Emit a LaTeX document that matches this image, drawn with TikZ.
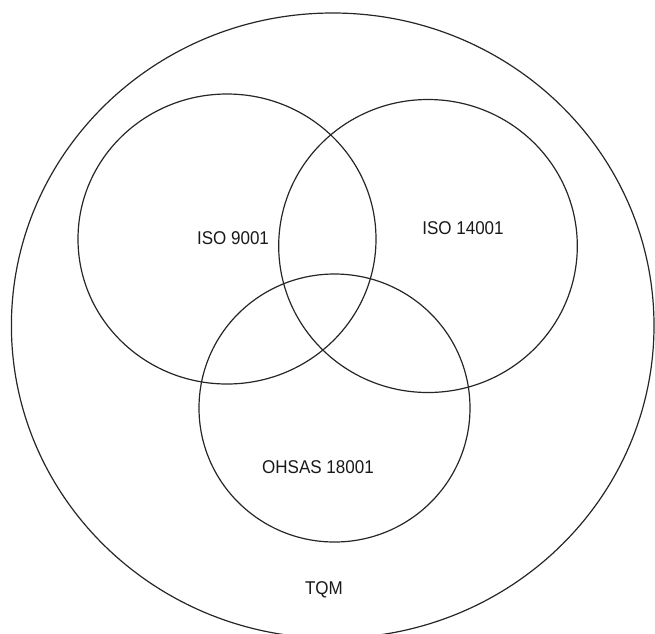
\documentclass[tikz,border=0pt]{standalone}
\usepackage{fontspec}
\setmainfont{Liberation Sans}[FakeStretch=0.92]
\begin{document}
\begin{tikzpicture}[x=1pt,y=-1pt,
  ring/.style={draw=black!85,line width=1.2pt},
  tag/.style={font=\fontsize{18.5}{22}\selectfont,text=black!90,inner sep=0pt}]
\useasboundingbox (0,0) rectangle (655,633);
\begin{scope}
\clip (0,0) rectangle (655,633);
% outer TQM ellipse, cut by the lower edge
\draw[ring] (332.7,325.6) ellipse [x radius=321.3, y radius=312.6];
\end{scope}
% the three management standards
\draw[ring] (227,239) ellipse [x radius=149, y radius=145];
\draw[ring] (428,246) ellipse [x radius=149.3, y radius=146.5];
\draw[ring] (334.5,408) ellipse [x radius=135.5, y radius=134];
% labels
\node[tag] (iso9) at (233,238) {ISO 9001};
\node[tag] (iso14) at (463,228) {ISO 14001};
\node[tag] (ohsas) at (318,467) {OHSAS 18001};
\node[tag] (tqm) at (324,590) {TQM};
\end{tikzpicture}
\end{document}
